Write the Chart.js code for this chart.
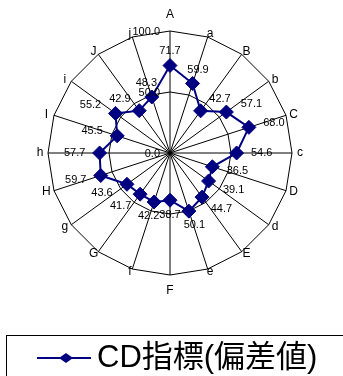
<!DOCTYPE html>
<html>
<head>
<meta charset="utf-8">
<script src="https://cdn.jsdelivr.net/npm/chart.js@4"></script>
<style>
  html, body { margin: 0; padding: 0; background: #fff; }
  #wrap { width: 343px; height: 376px; }
</style>
</head>
<body>
<div id="wrap"><canvas id="c" width="343" height="376"></canvas></div>
<script>
// Radar axes, clockwise from the top
const categories = ['A', 'a', 'B', 'b', 'C', 'c', 'D', 'd', 'E', 'e', 'F', 'f', 'G', 'g', 'H', 'h', 'I', 'i', 'J', 'j'];
// CD指標(偏差値) per axis
const cdValues = [71.7, 59.9, 42.7, 57.1, 68.0, 54.6, 36.5, 39.1, 44.7, 50.1, 38.7, 42.2, 41.7, 43.6, 59.7, 57.7, 45.5, 55.2, 42.9, 48.3];
// Value-axis ticks
const tickValues = [0, 50, 100];
const seriesName = 'CD指標(偏差値)';

const NAVY = '#000080';
const LATIN = '"Liberation Sans", Arial, sans-serif';

// Tick labels, category labels and value labels drawn around the radar
const radarText = {
  id: 'radarText',
  afterDatasetsDraw(chart) {
    const ctx = chart.ctx;
    const r = chart.scales.r;
    ctx.save();
    ctx.fillStyle = '#000';

    // value-axis tick labels, left of the vertical axis
    ctx.font = '11px ' + LATIN;
    ctx.textAlign = 'right';
    ctx.textBaseline = 'middle';
    tickValues.forEach(v => {
      const d = r.getDistanceFromCenterForValue(v);
      ctx.fillText(v.toFixed(1), r.xCenter - 10, r.yCenter - d + 1);
    });

    // category labels outside the outer ring
    ctx.font = '12px ' + LATIN;
    ctx.textAlign = 'center';
    const R = r.getDistanceFromCenterForValue(r.max);
    categories.forEach((lab, i) => {
      const a = r.getIndexAngle(i);
      const dx = Math.sin(a), dy = -Math.cos(a);
      const x = r.xCenter + dx * R + dx * 8;
      const y = r.yCenter + dy * R + dy * (Math.abs(dx) < 0.1 ? 16 : 3);
      ctx.fillText(lab, x, y);
    });

    // value labels next to each marker
    ctx.font = '11px ' + LATIN;
    const meta = chart.getDatasetMeta(0);
    meta.data.forEach((pt, i) => {
      const a = r.getIndexAngle(i);
      const dx = Math.sin(a), dy = -Math.cos(a);
      const k = Math.min(1, Math.max(0, (Math.abs(dx) - 0.2) / 0.5));
      const x = pt.x + Math.sign(dx) * 25 * k;
      const y = pt.y + dy * 14.5;
      ctx.fillText(chart.data.datasets[0].data[i].toFixed(1), x, y);
    });
    ctx.restore();
  },
  afterDraw(chart) {
    // legend box along the bottom
    const ctx = chart.ctx;
    ctx.save();
    ctx.strokeStyle = '#000';
    ctx.lineWidth = 1;
    ctx.strokeRect(6.5, 335.5, 360, 60);
    // sample line with diamond marker
    ctx.strokeStyle = NAVY;
    ctx.lineWidth = 2;
    ctx.beginPath();
    ctx.moveTo(37, 358);
    ctx.lineTo(91, 358);
    ctx.stroke();
    ctx.fillStyle = NAVY;
    ctx.beginPath();
    ctx.moveTo(59, 358);
    ctx.lineTo(66, 353);
    ctx.lineTo(73, 358);
    ctx.lineTo(66, 363);
    ctx.closePath();
    ctx.fill();
    // series name
    ctx.fillStyle = '#000';
    ctx.font = '31px "Liberation Sans", "Noto Sans CJK JP", sans-serif';
    ctx.textAlign = 'left';
    ctx.textBaseline = 'alphabetic';
    ctx.fillText(seriesName, 97, 367);
    ctx.restore();
  }
};

new Chart(document.getElementById('c'), {
  type: 'radar',
  data: {
    labels: categories,
    datasets: [{
      label: seriesName,
      data: cdValues,
      borderColor: NAVY,
      backgroundColor: NAVY,
      borderWidth: 2,
      fill: false,
      pointStyle: 'rectRot',
      pointRadius: 7,
      pointBorderWidth: 1,
      pointBackgroundColor: NAVY,
      pointBorderColor: NAVY,
      tension: 0
    }]
  },
  options: {
    responsive: false,
    animation: false,
    devicePixelRatio: 1,
    layout: { padding: { left: 48, right: 51, top: 31, bottom: 101 } },
    plugins: {
      legend: { display: false },
      tooltip: { enabled: false }
    },
    scales: {
      r: {
        min: 0,
        max: 100,
        startAngle: 0,
        ticks: { stepSize: 50, display: false },
        grid: { color: '#000', lineWidth: 1, circular: false },
        angleLines: { color: '#000', lineWidth: 1 },
        pointLabels: { display: false }
      }
    }
  },
  plugins: [radarText]
});
</script>
</body>
</html>
